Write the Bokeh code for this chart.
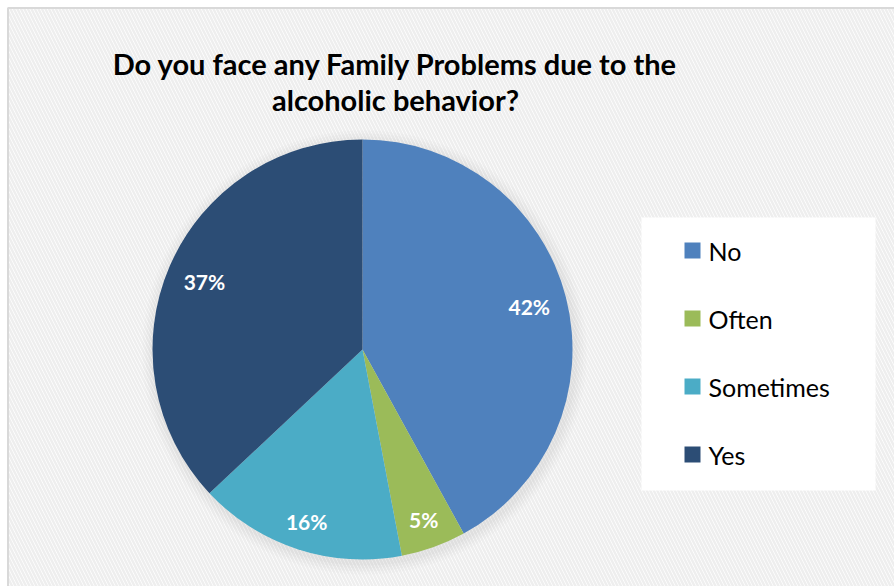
import math
from bokeh.plotting import figure
from bokeh.models import Range1d, ColumnDataSource
from bokeh.core.properties import value
from bokeh.embed import file_html
from bokeh.resources import INLINE

categories = ["No", "Often", "Sometimes", "Yes"]
percents = [42, 5, 16, 37]
colors = ["#4F81BD", "#9BBB59", "#4BACC6", "#2C4D75"]
title_lines = ["Do you face any Family Problems due to the", "alcoholic behavior?"]

W, H = 894, 586
def sy(y):
    return H - y

p = figure(width=W, height=H, output_backend="svg", toolbar_location=None,
           x_range=Range1d(0, W), y_range=Range1d(0, H),
           x_axis_location=None, y_axis_location=None, min_border=0)
p.grid.visible = False
p.outline_line_color = None
p.background_fill_color = "white"
p.border_fill_color = "white"

# hatched chart area with border
p.quad(left=[7.5], right=[W + 5], bottom=[-5], top=[sy(7.5)], fill_color="white",
       hatch_pattern="\\", hatch_color="#eeeeee", hatch_scale=7, hatch_weight=2.5,
       line_color="#d9d9d9", line_width=2)

# pie
cx, cy, r = 362, sy(349), 210
# soft shadow
for i, a in enumerate([0.025, 0.03, 0.035, 0.04]):
    p.circle(x=[cx + 2], y=[cy - 3], radius=r + 12 - i * 3, fill_color="#808080", fill_alpha=a, line_color=None)

total = sum(percents)
starts, ends, lx, ly, labels = [], [], [], [], []
cum = 0
for v in percents:
    a0 = math.pi / 2 - 2 * math.pi * cum / total
    a1 = math.pi / 2 - 2 * math.pi * (cum + v) / total
    starts.append(a0)
    ends.append(a1)
    mid = (a0 + a1) / 2
    lr = r * (0.82 if v > 20 else 0.86)
    lx.append(cx + lr * math.cos(mid))
    ly.append(cy + lr * math.sin(mid))
    labels.append(f"{v}%")
    cum += v

src = ColumnDataSource(dict(start=starts, end=ends, color=colors, lx=lx, ly=ly, label=labels))
p.wedge(x=cx, y=cy, radius=r, start_angle="start", end_angle="end", direction="clock",
        fill_color="color", line_color=None, source=src)
p.text(x="lx", y="ly", text="label", source=src, text_color="white",
       text_font=value("Lato"), text_font_style="bold", text_font_size="21px",
       text_align="center", text_baseline="middle")

# title
p.text(x=[395, 395], y=[sy(63), sy(99)], text=title_lines, text_color="black",
       text_font=value("Lato"), text_font_style="bold", text_font_size="29px",
       text_align="center", text_baseline="middle")

# legend box
p.quad(left=[641], right=[875], bottom=[sy(490)], top=[sy(217)], fill_color="white",
       line_color=None)
leg_y = [sy(250 + 68 * i) for i in range(len(categories))]
p.rect(x=[692] * len(categories), y=leg_y, width=16, height=16, fill_color=colors, line_color=None)
p.text(x=[708] * len(categories), y=leg_y, text=categories, text_color="black",
       text_font=value("Lato"), text_font_size="25px", text_align="left", text_baseline="middle")

open("out.html", "w").write(file_html(p, INLINE))
